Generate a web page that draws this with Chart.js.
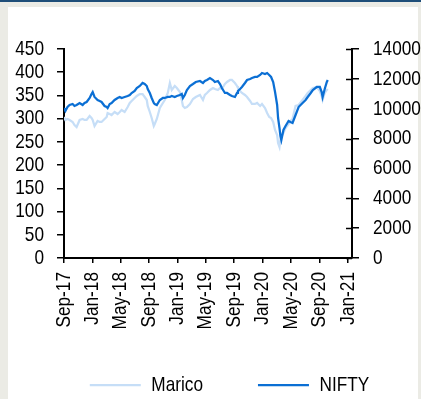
<!DOCTYPE html>
<html><head><meta charset="utf-8">
<script src="https://cdn.jsdelivr.net/npm/chart.js@4.4.1/dist/chart.umd.min.js"></script>
<style>
html,body{margin:0;padding:0;}
body{width:421px;height:399px;background:#ebebe5;position:relative;overflow:hidden;}
#topline{position:absolute;left:0;top:0;width:421px;height:2px;background:#1f4e79;}
#panel{position:absolute;left:8px;top:7px;width:410px;height:392px;background:#fff;}
#wrap{position:absolute;left:0;top:0;width:421px;height:399px;}
</style></head>
<body>
<div id="topline"></div><div id="panel"></div>
<div id="wrap"><canvas id="c" width="421" height="399"></canvas></div>
<script>
const dates = ['2017-09-01','2017-09-07','2017-09-16','2017-09-25','2017-10-08','2017-10-16','2017-10-25','2017-11-07','2017-11-20','2017-11-28',
'2017-12-07','2017-12-20','2017-12-28','2018-01-02','2018-01-10','2018-01-23','2018-02-01','2018-02-09','2018-02-22','2018-03-03',
'2018-03-07','2018-03-16','2018-03-24','2018-04-06','2018-04-19','2018-04-28','2018-05-06','2018-05-19','2018-06-01','2018-06-10',
'2018-06-18','2018-07-01','2018-07-10','2018-07-23','2018-08-04','2018-08-13','2018-08-22','2018-08-26','2018-09-04','2018-09-12',
'2018-09-21','2018-09-25','2018-10-04','2018-10-17','2018-10-30','2018-11-07','2018-11-20','2018-11-29','2018-12-07','2018-12-20',
'2018-12-29','2019-01-11','2019-01-19','2019-01-24','2019-02-01','2019-02-10','2019-02-23','2019-03-08','2019-03-20','2019-04-07',
'2019-04-20','2019-04-28','2019-05-07','2019-05-20','2019-06-02','2019-06-10','2019-06-23','2019-07-02','2019-07-10','2019-07-23',
'2019-08-01','2019-08-14','2019-08-22','2019-09-04','2019-09-13','2019-09-17','2019-09-26','2019-10-04','2019-10-17','2019-10-26',
'2019-11-08','2019-11-16','2019-11-29','2019-12-08','2019-12-21','2019-12-29','2020-01-11','2020-01-20','2020-01-29','2020-02-06',
'2020-02-15','2020-02-23','2020-03-03','2020-03-07','2020-03-13','2020-03-17','2020-03-21','2020-03-30','2020-04-08','2020-04-21',
'2020-04-29','2020-05-08','2020-05-21','2020-06-03','2020-06-20','2020-07-03','2020-07-12','2020-07-25','2020-08-03','2020-08-20',
'2020-09-02','2020-09-10','2020-09-14','2020-09-23','2020-10-02','2020-10-06'];

const marico = [303.6,297.2,299.3,297.2,292.9,286.4,282.1,297.2,299.3,297.2,
297.2,305.8,301.5,297.2,284.2,295.0,292.9,292.9,299.3,303.6,
312.2,310.1,307.9,314.4,310.1,314.4,318.7,314.4,325.1,333.8,
338.1,344.5,348.8,353.1,353.1,346.7,340.2,327.3,314.4,301.5,
284.2,288.5,299.3,323.0,333.8,340.2,355.3,376.8,361.8,370.4,
366.1,357.4,340.2,327.3,323.0,325.1,331.6,342.4,346.7,351.0,
340.2,351.0,355.3,361.8,366.1,363.9,361.8,366.1,363.9,374.7,
379.0,383.3,383.3,376.8,370.4,366.1,359.6,355.3,351.0,346.7,
338.1,331.6,331.6,333.8,327.3,331.6,323.0,312.2,303.6,301.5,
292.9,275.6,264.9,247.6,239.0,254.1,262.7,269.2,279.9,288.5,
295.0,299.3,327.3,329.4,340.2,348.8,355.3,361.8,366.1,368.2,
359.6,348.8,340.2,355.3,361.8,363.9];

const nifty = [10050,9848,10115,10249,10316,10182,10249,10383,10249,10383,
10450,10718,10986,11120,10785,10584,10517,10450,10182,10115,
10049,10316,10383,10584,10718,10785,10718,10785,10852,10919,
11053,11187,11388,11522,11723,11656,11522,11321,11053,10718,
10383,10316,10249,10584,10718,10718,10785,10785,10852,10785,
10852,10919,10986,10718,10919,11254,11522,11656,11790,11857,
11723,11857,11924,12058,11924,11790,11857,11656,11388,11053,
11053,10919,10852,10785,11053,11187,11321,11455,11723,11924,
11991,12058,12125,12125,12259,12393,12326,12393,12259,12125,
11790,11120,10249,9379,8709,8173,7905,8575,8843,9178,
9111,9044,9580,10115,10383,10584,10785,11053,11254,11455,
11455,11120,10785,11321,11790,11924];

const tickDates = ['2017-09-01','2018-01-01','2018-05-01','2018-09-01','2019-01-01','2019-05-01','2019-09-01','2020-01-01','2020-05-01','2020-09-01','2021-01-01'];
const tickLabels = ['Sep-17','Jan-18','May-18','Sep-18','Jan-19','May-19','Sep-19','Jan-20','May-20','Sep-20','Jan-21'];
const leftTicks = [0,50,100,150,200,250,300,350,400,450];
const rightTicks = [0,2000,4000,6000,8000,10000,12000,14000];
const axisStart = '2017-09-01';
const axisEnd = '2021-01-18';

function dayNum(s){
  const p = s.split('-').map(Number);
  const b = axisStart.split('-').map(Number);
  return (Date.UTC(p[0],p[1]-1,p[2]) - Date.UTC(b[0],b[1]-1,b[2]))/86400000;
}

// narrow (condensed) text rendering: no narrow font installed, so compress glyphs horizontally
const SX = 0.82;
const P = CanvasRenderingContext2D.prototype;
const origFill = P.fillText, origMeasure = P.measureText;
P.fillText = function(t, x, y, mw){
  this.save(); this.translate(x, y); this.scale(SX, 1);
  if (mw !== undefined) origFill.call(this, t, 0, 0, mw / SX); else origFill.call(this, t, 0, 0);
  this.restore();
};
P.measureText = function(t){
  const m = origMeasure.call(this, t);
  return {width: m.width * SX,
    actualBoundingBoxLeft: m.actualBoundingBoxLeft * SX, actualBoundingBoxRight: m.actualBoundingBoxRight * SX,
    actualBoundingBoxAscent: m.actualBoundingBoxAscent, actualBoundingBoxDescent: m.actualBoundingBoxDescent,
    fontBoundingBoxAscent: m.fontBoundingBoxAscent, fontBoundingBoxDescent: m.fontBoundingBoxDescent};
};

const FONT = {family:"'Liberation Sans Narrow','Arial Narrow','Liberation Sans',Arial,sans-serif", size:21, lineHeight:1};
const BLACK = '#000';

const tweaks = {
  id:'tweaks',
  afterLayout(chart){
    // let the rotated x labels extend down into the legend band (no clipping)
    chart.scales.x.bottom = chart.height;
  },
  afterDraw(chart){
    const s = chart.scales.y1, ctx = chart.ctx;
    ctx.save();
    ctx.strokeStyle = BLACK; ctx.lineWidth = 1.5;
    s.ticks.forEach(t=>{
      const y = Math.round(s.getPixelForValue(t.value)) + 0.5;
      ctx.beginPath(); ctx.moveTo(chart.chartArea.right - 6, y); ctx.lineTo(chart.chartArea.right, y); ctx.stroke();
    });
    ctx.restore();
  }
};

new Chart(document.getElementById('c'),{
  type:'line',
  data:{
    datasets:[
      {label:'Marico', data:dates.map((d,i)=>({x:dayNum(d),y:marico[i]})), borderColor:'#c6def7', backgroundColor:'#c6def7', borderWidth:2.25, pointRadius:0, tension:0, yAxisID:'y', order:1},
      {label:'NIFTY', data:dates.map((d,i)=>({x:dayNum(d),y:nifty[i]})), borderColor:'#0b6fd4', backgroundColor:'#0b6fd4', borderWidth:2.25, pointRadius:0, tension:0, yAxisID:'y1', order:0}
    ]
  },
  options:{
    responsive:false, animation:false, devicePixelRatio:1,
    layout:{padding:{left:12,right:-26,top:49,bottom:-6.5}},
    plugins:{
      tooltip:{enabled:false},
      legend:{position:'bottom', align:'center',
        labels:{usePointStyle:true, pointStyle:'line', pointStyleWidth:51, padding:55, color:BLACK, font:FONT,
          sort:(a,b)=>a.datasetIndex-b.datasetIndex}}
    },
    scales:{
      x:{type:'linear', min:0, max:dayNum(axisEnd),
        afterBuildTicks:(s)=>{ s.ticks = tickDates.map(d=>({value:dayNum(d)})); },
        afterFit:(s)=>{ s.height = 61.5; },
        grid:{drawOnChartArea:false, drawTicks:true, tickLength:5, color:BLACK, lineWidth:1.5},
        border:{display:true, color:BLACK, width:2},
        ticks:{autoSkip:false, maxRotation:90, minRotation:90, padding:9, color:BLACK, font:FONT,
          callback:(v,i)=>tickLabels[i]}
      },
      y:{position:'left', min:0, max:450,
        afterBuildTicks:(s)=>{ s.ticks = leftTicks.map(v=>({value:v})); },
        afterFit:(s)=>{ s.width = 52; },
        grid:{drawOnChartArea:false, drawTicks:true, tickLength:7, color:BLACK, lineWidth:1.5},
        border:{display:true, color:BLACK, width:2},
        ticks:{autoSkip:false, padding:13, color:BLACK, font:FONT, callback:(v)=>String(v)}
      },
      y1:{position:'right', min:0, max:14000,
        afterBuildTicks:(s)=>{ s.ticks = rightTicks.map(v=>({value:v})); },
        afterFit:(s)=>{ s.width = 95; },
        grid:{drawOnChartArea:false, drawTicks:true, tickLength:7, color:BLACK, lineWidth:1.5},
        border:{display:true, color:BLACK, width:2},
        ticks:{autoSkip:false, padding:14, color:BLACK, font:FONT, callback:(v)=>String(v)}
      }
    }
  },
  plugins:[tweaks]
});
</script>
</body></html>
